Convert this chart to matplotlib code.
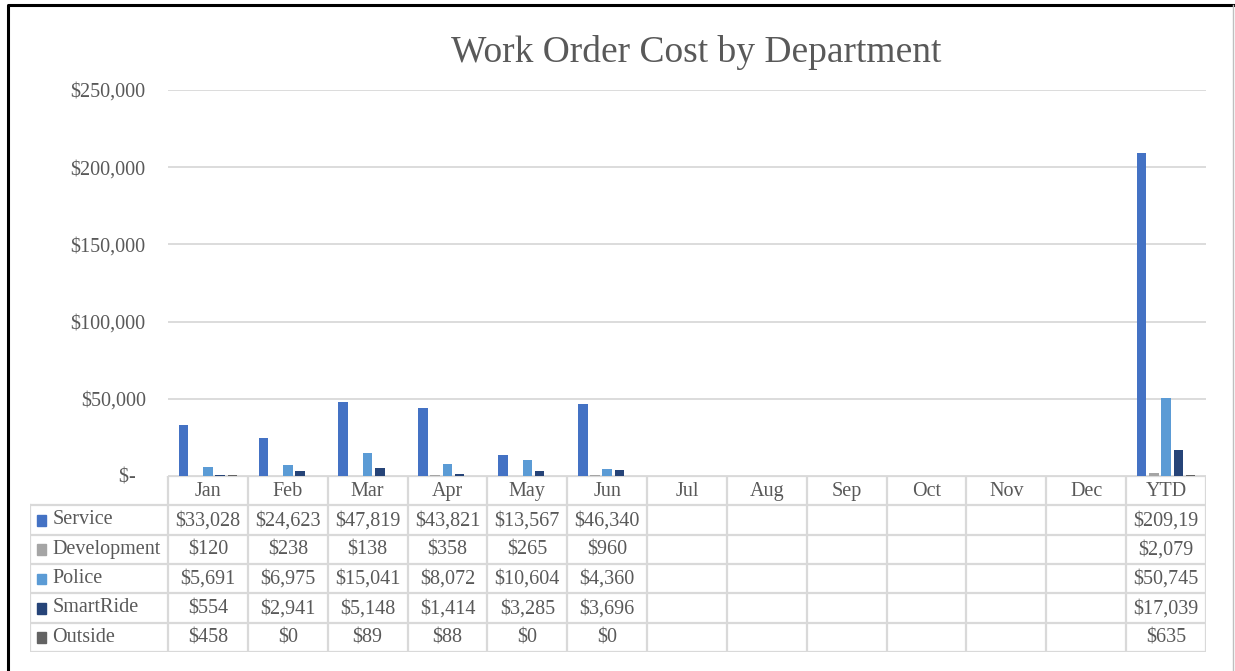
import matplotlib.pyplot as plt
from matplotlib.patches import Rectangle

months = ['Jan', 'Feb', 'Mar', 'Apr', 'May', 'Jun', 'Jul', 'Aug', 'Sep', 'Oct', 'Nov', 'Dec', 'YTD']
departments = ['Service', 'Development', 'Police', 'SmartRide', 'Outside']
colors = ['#4472C4', '#A5A5A5', '#5B9BD5', '#264478', '#636363']

# None = no data for that month
service = [33028, 24623, 47819, 43821, 13567, 46340, None, None, None, None, None, None, 209195]
development = [120, 238, 138, 358, 265, 960, None, None, None, None, None, None, 2079]
police = [5691, 6975, 15041, 8072, 10604, 4360, None, None, None, None, None, None, 50745]
smartride = [554, 2941, 5148, 1414, 3285, 3696, None, None, None, None, None, None, 17039]
outside = [458, 0, 89, 88, 0, 0, None, None, None, None, None, None, 635]
series = [service, development, police, smartride, outside]

yticks = [0, 50000, 100000, 150000, 200000, 250000]

plt.rcParams['font.family'] = ['Liberation Serif', 'DejaVu Serif']
txt = '#595959'
grid = '#D9D9D9'
fs = 14.5

W, H = 1235, 671
fig = plt.figure(figsize=(W / 100, H / 100), dpi=100)

# bar chart area
ax = fig.add_axes([168 / W, (H - 476) / H, (1206 - 168) / W, (476 - 90) / H])
n = len(departments)
pitch, width = 0.153, 0.12
for i, (name, vals, c) in enumerate(zip(departments, series, colors)):
    xs = [j + (i - (n - 1) / 2) * pitch for j, v in enumerate(vals) if v is not None]
    ys = [v for v in vals if v is not None]
    ax.bar(xs, ys, width=width, color=c, zorder=3)
ax.set_xlim(-0.5, len(months) - 0.5)
ax.set_ylim(0, 250000)
ax.set_yticks(yticks)
ax.set_yticklabels(['$-  ' if v == 0 else f'${v:,.0f}' for v in yticks])
ax.tick_params(axis='y', length=0, pad=16, labelsize=fs, labelcolor=txt)
ax.set_xticks([])
ax.grid(axis='y', color=grid, lw=1.3, zorder=0)
for s in ax.spines.values():
    s.set_visible(False)

# data table below, columns aligned to the categories
tab = fig.add_axes([30 / W, (H - 652) / H, (1206 - 30) / W, (652 - 476) / H])
left = -0.5 - (168 - 30) / ((1206 - 168) / len(months))
tab.set_xlim(left, len(months) - 0.5)
tab.set_ylim(len(departments) + 1, 0)
tab.axis('off')
lk = dict(color=grid, lw=1.6, solid_capstyle='projecting')
right = len(months) - 0.5
tab.plot([-0.5, right], [0, 0], **lk)
for r in range(1, len(departments) + 2):
    tab.plot([left, right], [r, r], **lk)
tab.plot([left, left], [1, len(departments) + 1], **lk)
for j in range(len(months) + 1):
    tab.plot([j - 0.5, j - 0.5], [0, len(departments) + 1], **lk)

for j, m in enumerate(months):
    tab.text(j, 0.52, m, ha='center', va='center', fontsize=fs, color=txt)

for i, (name, vals, c) in enumerate(zip(departments, series, colors)):
    y = i + 1.5
    tab.add_patch(Rectangle((left + 0.085, y - 0.17), 0.12, 0.36, color=c,
                            transform=tab.transData))
    tab.text(left + 0.28, y, name, ha='left', va='center', fontsize=fs, color=txt)
    for j, v in enumerate(vals):
        if v is None:
            continue
        label = f'${v:,.0f}'[:7]  # cell is only wide enough for 7 characters
        tab.text(j, y + 0.02, label, ha='center', va='center', fontsize=fs, color=txt)

fig.text(696 / W, 1 - 52 / H, 'Work Order Cost by Department', ha='center', va='center',
         fontsize=27, color=txt)

# outer frame
frame = fig.add_axes([0, 0, 1, 1], facecolor='none')
frame.set_xlim(0, W)
frame.set_ylim(H, 0)
frame.axis('off')
frame.plot([8, 8, 1233], [H, 5, 5], color='black', lw=2.2)
frame.plot([1233, 1233], [5, H], color='#BFBFBF', lw=1)

fig.savefig('out.png', dpi=100)
